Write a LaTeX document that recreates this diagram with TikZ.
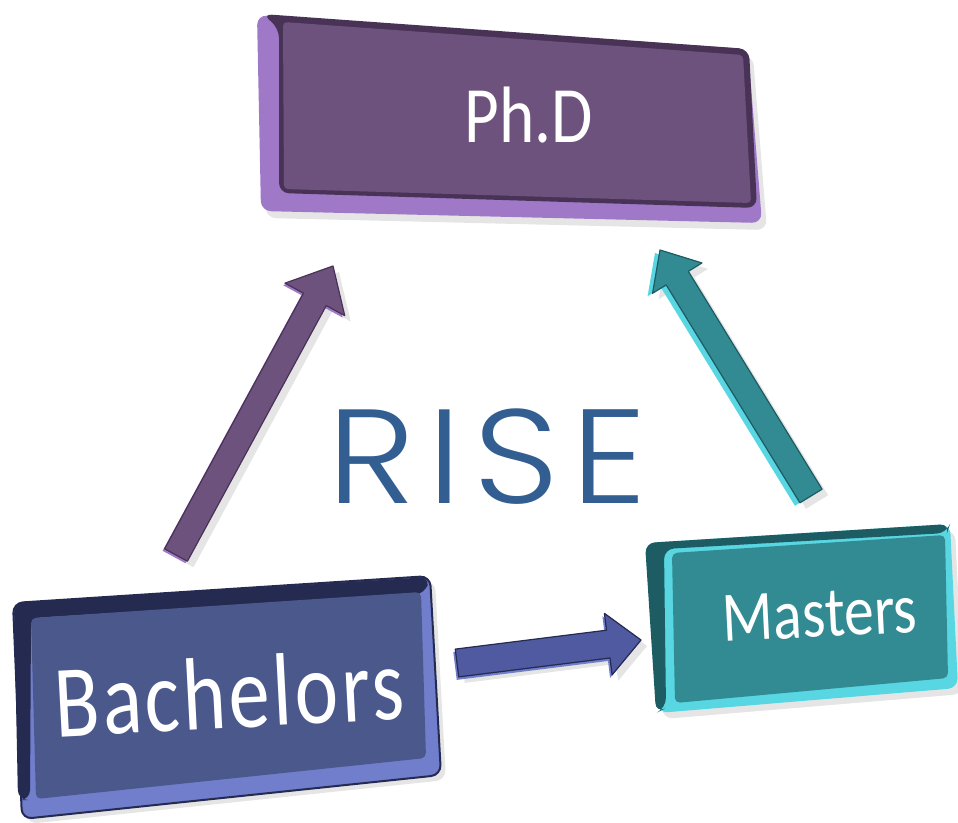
\documentclass[tikz,border=0pt]{standalone}
\usepackage{fontspec}
\usetikzlibrary{calc}
\newfontfamily\boxfont{Carlito}[FakeStretch=0.84]
\newfontfamily\bachfont{Carlito}[FakeStretch=0.8,LetterSpace=3]
\newfontfamily\risefont{Poppins Light}[FakeStretch=1.12,LetterSpace=9]
\definecolor{phdface}{RGB}{110,82,126}
\definecolor{phdlight}{RGB}{160,120,200}
\definecolor{phddark}{RGB}{72,50,86}
\definecolor{baface}{RGB}{74,88,140}
\definecolor{balight}{RGB}{112,126,204}
\definecolor{badark}{RGB}{36,42,80}
\definecolor{maface}{RGB}{50,138,146}
\definecolor{malight}{RGB}{88,214,226}
\definecolor{madark}{RGB}{28,92,98}
\definecolor{arblue}{RGB}{80,90,160}
\definecolor{risecol}{RGB}{50,94,146}
\newcommand{\barrow}[6]{%
  \coordinate (#1h) at ($(#2)!#5!(#1)$);
  \path[#6] ($(#1)!#3!90:(#2)$) -- ($(#1h)!#3!90:(#2)$) -- ($(#1h)!#4!90:(#2)$) -- (#2)
    -- ($(#1h)!#4!-90:(#2)$) -- ($(#1h)!#3!-90:(#2)$) -- ($(#1)!#3!-90:(#2)$) -- cycle;}
\tikzset{
  shade1/.style={fill=black,opacity=.10},
  boxtxt/.style={text=white,inner sep=0pt,anchor=base},
  rc/.style={rounded corners=10pt}
}
\begin{document}
\begin{tikzpicture}[x=1pt,y=-1pt]
\useasboundingbox (0,0) rectangle (958,822);
% ---------- arrow end points
\coordinate (pt) at (176,555);  \coordinate (pp) at (333,266);
\coordinate (tt) at (811,496);  \coordinate (tp) at (660,250);
\coordinate (bt) at (457,663);  \coordinate (bp) at (641,640);
% ---------- arrows
\begin{scope}[transform canvas={shift={(6,6)}}]
  \barrow{pt}{pp}{13pt}{34pt}{38pt}{shade1}
  \barrow{tt}{tp}{13pt}{29pt}{33pt}{shade1}
  \barrow{bt}{bp}{14pt}{31pt}{33pt}{shade1}
\end{scope}
\begin{scope}[transform canvas={shift={(-2,2)}}]
  \barrow{pt}{pp}{13pt}{34pt}{38pt}{fill=phdlight}
\end{scope}
\barrow{pt}{pp}{13pt}{34pt}{38pt}{fill=phdface,draw=phddark,line width=1.2pt,line join=round}
\begin{scope}[transform canvas={shift={(-5,3)}}]
  \barrow{tt}{tp}{13pt}{29pt}{33pt}{fill=malight}
\end{scope}
\barrow{tt}{tp}{13pt}{29pt}{33pt}{fill=maface,draw=madark,line width=1.2pt,line join=round}
\begin{scope}[transform canvas={shift={(-2,3)}}]
  \barrow{bt}{bp}{14pt}{31pt}{33pt}{fill=balight}
\end{scope}
\barrow{bt}{bp}{14pt}{31pt}{33pt}{fill=arblue,draw=badark,line width=1.2pt,line join=round}
% ---------- Ph.D box
\fill[shade1,rc,shift={(5,7)}] (257,15) -- (748,49) -- (762,223) -- (261,211) -- cycle;
\fill[phdlight,rc] (257,15) -- (748,49) -- (762,223) -- (261,211) -- cycle;
\fill[phddark,rc] (262,14) -- (749,49) -- (757,208) -- (279,193) -- (279,28) -- cycle;
\fill[phdface,rounded corners=4pt] (283,22) -- (743,55) -- (751,203) -- (284,189) -- cycle;
\node[boxtxt,font=\boxfont\fontsize{80}{80}\selectfont] (phd) at (529,142) {Ph.D};
% ---------- Bachelors box
\fill[shade1,rc,shift={(5,5)}] (13,603) -- (430,576) -- (441,775) -- (22,819) -- cycle;
\fill[balight,rc,draw=badark,line width=2pt] (13,603) -- (430,576) -- (441,775) -- (22,819) -- cycle;
\fill[badark,rc] (14,603) -- (430,577) -- (425,594) -- (31,618) -- (30,800) -- (18,800) -- cycle;
\fill[baface,rounded corners=5pt] (31,618) -- (421,592) -- (426,758) -- (36,799) -- cycle;
\node[boxtxt,font=\bachfont\fontsize{103}{103}\selectfont,rotate=3] (bach) at (231,728) {Bachelors};
% ---------- Masters box
\fill[shade1,rc,shift={(5,6)}] (645,543) -- (950,524) -- (958,688) -- (658,713) -- cycle;
\fill[malight,rc] (645,543) -- (950,524) -- (958,688) -- (658,713) -- cycle;
\fill[madark,rc] (645,543) -- (950,524) -- (947,533) -- (664,549) -- (666,708) -- (656,713) -- cycle;
\fill[maface,rounded corners=5pt] (672,553) -- (945,535) -- (948,678) -- (675,703) -- cycle;
\node[boxtxt,font=\boxfont\fontsize{71}{71}\selectfont,rotate=2.9] (mast) at (821,637) {Masters};
% ---------- title
\node[text=risecol,inner sep=0pt,anchor=base,font=\risefont\fontsize{134}{134}\selectfont] (rise) at (487,503) {RISE};
\end{tikzpicture}
\end{document}
